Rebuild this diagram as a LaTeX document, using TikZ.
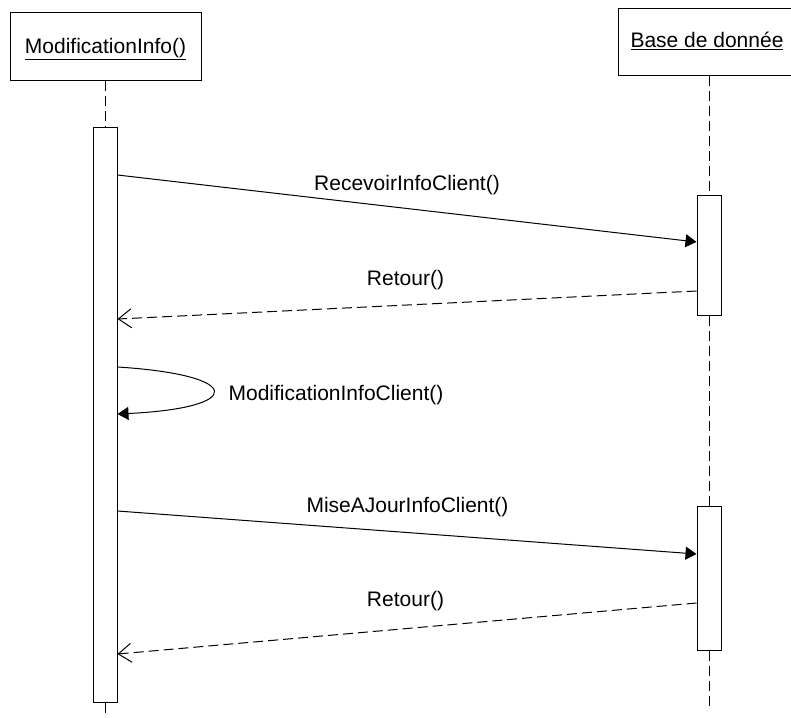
\documentclass[tikz,border=0pt]{standalone}
\usepackage{fontspec}
\setmainfont{Liberation Sans}
\usetikzlibrary{arrows.meta,calc}
\begin{document}
\begin{tikzpicture}[x=1pt,y=-1pt,
  line width=1pt,
  lbl/.style={font=\fontsize{21}{25}\selectfont, inner sep=0pt, anchor=base},
  headbox/.style={draw, fill=white, inner sep=0pt},
  actbox/.style={draw, fill=white, inner sep=0pt, minimum width=24pt},
  life/.style={dash pattern=on 10pt off 5pt},
  call/.style={-{Triangle[length=11pt,width=13pt]}},
  ret/.style={dash pattern=on 10pt off 5pt, -{Straight Barb[length=13pt,width=19pt]}},
]
\clip (0,0) rectangle (791,717);
\fill[white] (0,0) rectangle (791,717);
% lifeline heads
\node[headbox, minimum width=191pt, minimum height=67pt] (A) at (105.5,46.5) {};
\node[lbl] (At) at (105.5,53) {\underline{ModificationInfo()}};
\node[headbox, minimum width=182pt, minimum height=66pt] (B) at (709,42) {};
\node[lbl] (Bt) at (707,48) {\underline{Base de donnée}};
% activations
\node[actbox, minimum height=575pt] (L) at (105,414.5) {};
\node[actbox, minimum height=120pt] (R1) at (709,255) {};
\node[actbox, minimum height=144pt] (R2) at (709,578) {};
\coordinate (Lend) at (105,717);
\coordinate (Rend) at (709,707);
% lifelines
\draw[life] (A.south -| L.north) -- (L.north);
\draw[life] (L.south) -- (Lend);
\draw[life] (B.south -| R1.north) -- (R1.north);
\draw[life] (R1.south) -- (R2.north);
\draw[life] (R2.south) -- (Rend);
% messages
\draw[call] (L.east |- 0,175) -- (R1.west |- 0,242);
\draw[ret] (R1.west |- 0,291) -- (L.east |- 0,319);
\draw[call] (L.east |- 0,367) .. controls (245,375) and (245,408) .. (L.east |- 0,414);
\draw[call] (L.east |- 0,511) -- (R2.west |- 0,554);
\draw[ret] (R2.west |- 0,603) -- (L.east |- 0,654);
% labels
\node[lbl] (m1) at (407,190) {RecevoirInfoClient()};
\node[lbl] (m2) at (405.5,285) {Retour()};
\node[lbl] (m3) at (336,400) {ModificationInfoClient()};
\node[lbl] (m4) at (407.5,512) {MiseAJourInfoClient()};
\node[lbl] (m5) at (405.5,606) {Retour()};
\end{tikzpicture}
\end{document}
